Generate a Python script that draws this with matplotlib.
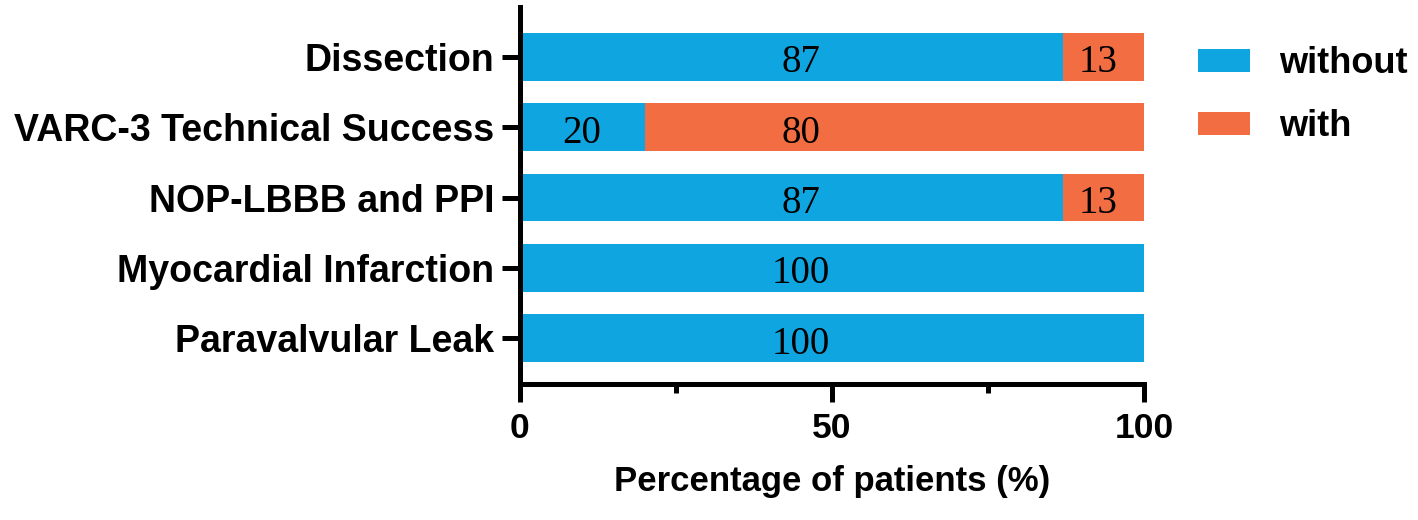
import numpy as np
import matplotlib.pyplot as plt

plt.rcParams['font.family'] = ['Liberation Sans', 'DejaVu Sans']
plt.rcParams['font.weight'] = 'bold'

# data, bottom row first
categories = ['Paravalvular Leak', 'Myocardial Infarction', 'NOP-LBBB and PPI',
              'VARC-3 Technical Success', 'Dissection']
without = [100, 100, 87, 20, 87]
with_ = [0, 0, 13, 80, 13]
xticks = [0, 50, 100]

# where the value labels sit (as on the original figure)
lab_without = [45, 45, 45, 10, 45]
lab_with = [None, None, 92.5, 45, 92.5]

blue = '#0EA5E1'
orange = '#F26E42'

fig = plt.figure(figsize=(14.18, 5.2), dpi=100)
ax = fig.add_axes([0.3664, 0.2606, 0.8071 - 0.3664, 0.9865 - 0.2606])

y = np.arange(len(categories))
h = 0.68
ax.barh(y, without, height=h, color=blue, label='without')
ax.barh(y, with_, left=without, height=h, color=orange, label='with')

for i in range(len(categories)):
    ax.text(lab_without[i], y[i] - 0.02, str(without[i]), ha='center',
            va='center_baseline', fontsize=28, family='Liberation Serif',
            weight='normal')
    if with_[i] > 0:
        ax.text(lab_with[i], y[i] - 0.02, str(with_[i]), ha='center',
                va='center_baseline', fontsize=28, family='Liberation Serif',
                weight='normal')

ax.set_xlim(0, 100)
ax.set_ylim(-0.66, 4.71)
ax.set_yticks(y)
ax.set_yticklabels(categories, fontsize=27, weight='bold')
ax.set_xticks(xticks)
ax.set_xticklabels([str(t) for t in xticks], fontsize=25.5, weight='bold')
ax.set_xticks([25, 75], minor=True)
ax.set_xlabel('Percentage of patients (%)', fontsize=25, weight='bold',
              labelpad=14)

for s in ['top', 'right']:
    ax.spines[s].set_visible(False)
for s in ['left', 'bottom']:
    ax.spines[s].set_linewidth(3.6)
ax.spines['bottom'].set_bounds(0, 100)
ax.tick_params(axis='x', which='major', length=13, width=3.6, pad=7)
ax.tick_params(axis='x', which='minor', length=6.5, width=3.6)
ax.tick_params(axis='y', length=13, width=3.6, pad=5)

ax.legend(loc='upper left', bbox_to_anchor=(1198 / 1418, 1 - 46 / 520),
          bbox_transform=fig.transFigure, frameon=False, fontsize=26,
          handlelength=1.45, handleheight=0.6, handletextpad=0.8,
          labelspacing=0.78, borderpad=0, borderaxespad=0)

fig.savefig('out.png', dpi=100)
